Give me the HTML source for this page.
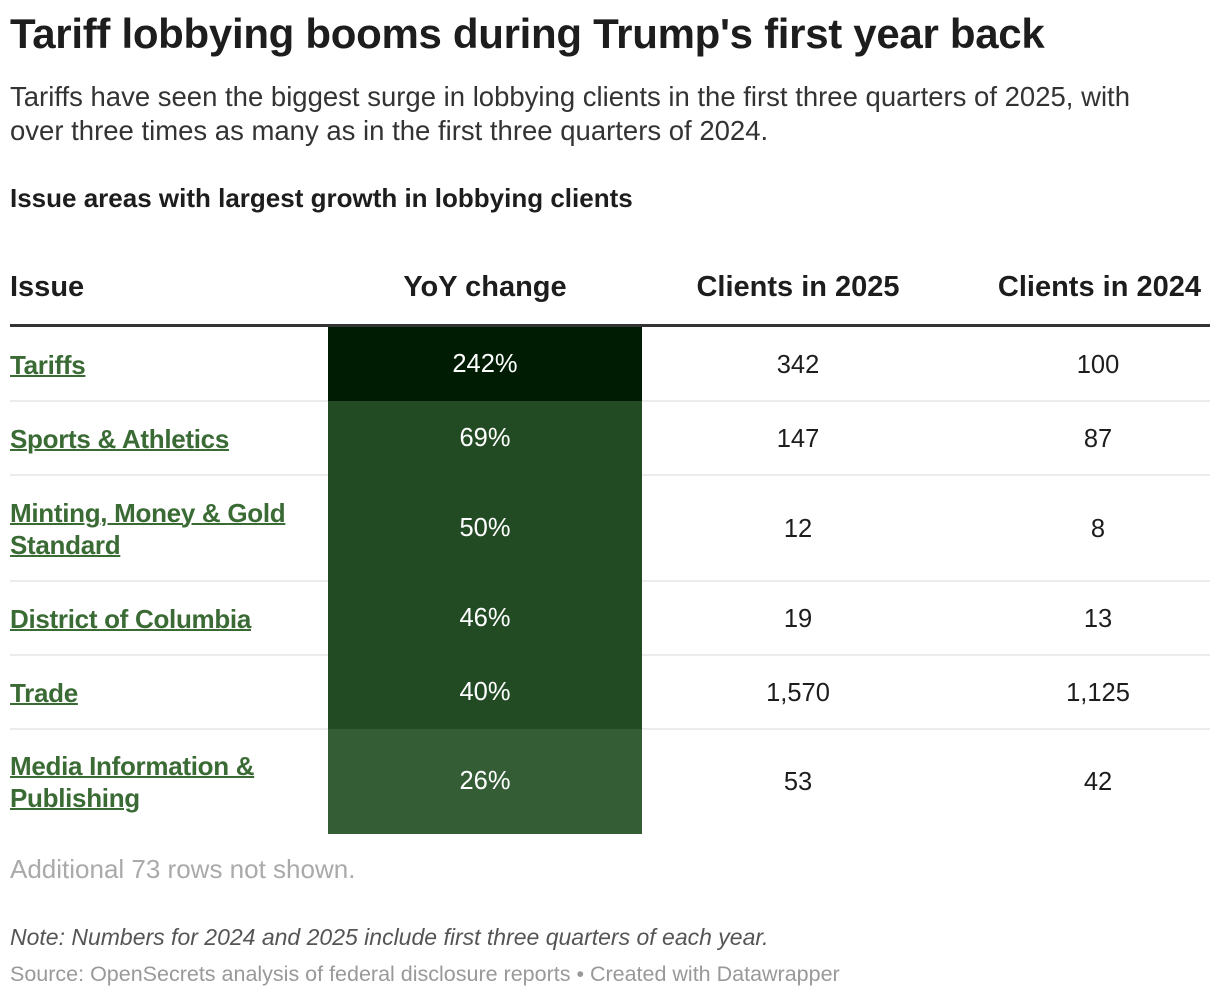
<!DOCTYPE html>
<html><head><meta charset="utf-8"><style>
body{margin:0;width:1220px;height:998px;background:#fff;font-family:"Liberation Sans",sans-serif;position:relative;overflow:hidden;color:#1d1d1d}
.a{position:absolute;white-space:nowrap}
#title{left:10px;top:10px;font-size:42px;font-weight:bold;letter-spacing:-0.3px}
#sub{left:10px;top:80px;font-size:27.5px;line-height:34px;color:#333}
#sh{left:10px;top:183px;font-size:26px;font-weight:bold}
.hd{top:271px;font-size:29px;font-weight:bold}
.cell{position:absolute;display:flex;align-items:center;font-size:25.5px;z-index:2}
.lnk{color:#3b6b35;font-weight:bold;text-decoration:underline;text-decoration-thickness:2px;font-size:26px;line-height:32px;white-space:normal;letter-spacing:-0.3px}
.sep{position:absolute;left:10px;width:1200px;height:2px;background:#ececec;z-index:1}
</style></head><body>
<div class="a" id="title">Tariff lobbying booms during Trump's first year back</div>
<div class="a" id="sub">Tariffs have seen the biggest surge in lobbying clients in the first three quarters of 2025, with<br>over three times as many as in the first three quarters of 2024.</div>
<div class="a" id="sh">Issue areas with largest growth in lobbying clients</div>
<div class="a hd" style="left:10px">Issue</div>
<div class="a hd" style="left:328px;width:314px;text-align:center">YoY change</div>
<div class="a hd" style="left:648px;width:300px;text-align:center">Clients in 2025</div>
<div class="a hd" style="left:960px;width:241px;text-align:right">Clients in 2024</div>
<div class="a" style="left:10px;top:324px;width:1200px;height:3px;background:#333"></div>
<div id="rows"></div>
<div class="a" style="left:10px;top:854px;font-size:26px;color:#aaa">Additional 73 rows not shown.</div>
<div class="a" style="left:10px;top:924px;font-size:23px;font-style:italic;color:#555">Note: Numbers for 2024 and 2025 include first three quarters of each year.</div>
<div class="a" style="left:10px;top:962px;font-size:21.5px;color:#999">Source: OpenSecrets analysis of federal disclosure reports • Created with Datawrapper</div>
<script>
const issues=["Tariffs","Sports & Athletics","Minting, Money & Gold Standard","District of Columbia","Trade","Media Information & Publishing"];
const yoy=[242,69,50,46,40,26];
const clients2025=[342,147,12,19,1570,53];
const clients2024=[100,87,8,13,1125,42];
const heights=[74,74,106,74,74,104];
const colors=["#001d04","#224b24","#224b24","#224b24","#224b24","#345d35"];
const root=document.getElementById('rows');
let y=327;
function cell(html,left,w,top,h,extra){const d=document.createElement('div');d.className='cell';d.style.cssText=`left:${left}px;width:${w}px;top:${top}px;height:${h}px;`+extra;d.innerHTML=html;root.appendChild(d);return d;}
const fmt=n=>n.toLocaleString('en-US');
issues.forEach((iss,i)=>{
  const h=heights[i];
  if(i>0){const s=document.createElement('div');s.className='sep';s.style.top=(y-1)+'px';
    
    root.appendChild(s);}
  const a=cell('<span class="lnk">'+iss.replace('&','&amp;')+'</span>',10,300,y+1,h,'');
  
  
  const b=cell(yoy[i]+'%',328,314,y,h+1,'justify-content:center;color:#fff;background:'+colors[i]);
  
  
  const c=cell(fmt(clients2025[i]),648,300,y+1,h,'justify-content:center');
  
  
  const d=cell(fmt(clients2024[i]),998,200,y+1,h,'justify-content:center');
  
  
  y+=h;
});
</script>
</body></html>
